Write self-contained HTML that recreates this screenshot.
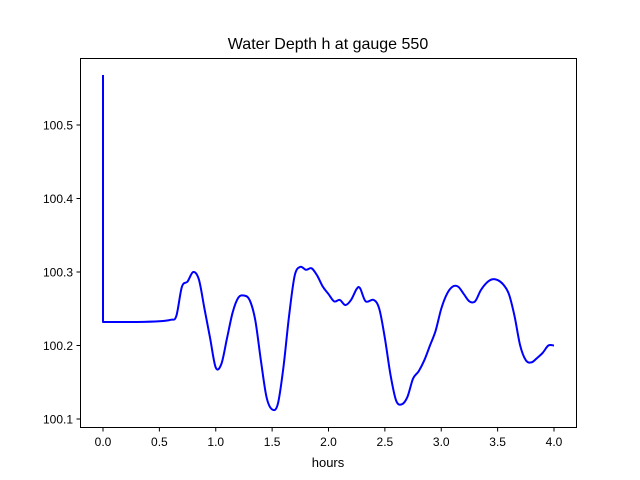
<!DOCTYPE html>
<html><head><meta charset="utf-8"><style>
body{margin:0;background:#fff;}
svg{display:block;font-family:"Liberation Sans","DejaVu Sans",sans-serif;}
</style></head><body>
<svg id="chart" width="640" height="480">
<rect x="0" y="0" width="640" height="480" fill="#fff"/>
<text x="328" y="49" font-size="16" text-anchor="middle">Water Depth h at gauge 550</text>
<text x="328" y="467" font-size="13" text-anchor="middle">hours</text>
<g id="ticks"></g>
<path id="line" fill="none" stroke="#0000ff" stroke-width="2" stroke-linejoin="round"/>
<rect x="80.5" y="58.5" width="496" height="369" fill="none" stroke="#000" stroke-width="1"/>
</svg>
<script>
const xs=[0,0,0.1,0.3,0.5,0.6,0.65,0.7,0.75,0.8,0.85,0.9,0.95,1.0,1.05,1.1,1.15,1.2,1.25,1.3,1.35,1.4,1.45,1.5,1.55,1.6,1.65,1.7,1.75,1.8,1.85,1.9,1.95,2.0,2.05,2.1,2.15,2.2,2.25,2.28,2.33,2.4,2.45,2.5,2.55,2.6,2.65,2.7,2.75,2.8,2.85,2.9,2.95,3.0,3.05,3.1,3.15,3.2,3.25,3.3,3.35,3.4,3.45,3.5,3.55,3.6,3.65,3.7,3.75,3.8,3.85,3.9,3.95,4.0];
const ys=[100.568,100.232,100.232,100.232,100.233,100.235,100.24,100.28,100.287,100.3,100.29,100.25,100.21,100.17,100.175,100.21,100.245,100.265,100.268,100.262,100.235,100.18,100.13,100.113,100.12,100.17,100.24,100.295,100.307,100.303,100.305,100.295,100.28,100.27,100.26,100.262,100.255,100.262,100.277,100.278,100.26,100.262,100.25,100.21,100.16,100.125,100.12,100.13,100.155,100.165,100.18,100.2,100.22,100.25,100.27,100.28,100.28,100.27,100.26,100.26,100.275,100.285,100.29,100.289,100.283,100.27,100.24,100.2,100.18,100.177,100.183,100.19,100.2,100.2];
const xTicks=[0,0.5,1,1.5,2,2.5,3,3.5,4];
const yTicks=[100.1,100.2,100.3,100.4,100.5];
const X=v=>103+v*112.75;
const Y=v=>125-(v-100.5)*735;
const ns="http://www.w3.org/2000/svg";
const g=document.getElementById('ticks');
function mk(t,a){const e=document.createElementNS(ns,t);for(const k in a)e.setAttribute(k,a[k]);g.appendChild(e);return e;}
xTicks.forEach(v=>{
 const l=mk('line',{x1:X(v),x2:X(v),y1:427.5,y2:431.5,stroke:'#000'});
 
 
 const t=mk('text',{x:X(v),y:446,'font-size':12,'text-anchor':'middle'});
 t.textContent=v.toFixed(1);
 
 
});
yTicks.forEach(v=>{
 const l=mk('line',{x1:76.5,x2:80.5,y1:Y(v),y2:Y(v),stroke:'#000'});
 
 
 const t=mk('text',{x:73,y:Y(v)+4.5,'font-size':12,'text-anchor':'end'});
 t.textContent=v.toFixed(1);
 
 
});
const P=xs.map((x,i)=>[X(x),Y(ys[i])]);
let d='M'+P[0][0].toFixed(2)+' '+P[0][1].toFixed(2)+' L'+P[1][0].toFixed(2)+' '+P[1][1].toFixed(2)+' ';
for(let i=1;i<P.length-1;i++){
 const p0=P[Math.max(1,i-1)],p1=P[i],p2=P[i+1],p3=P[Math.min(P.length-1,i+2)];
 const c1=[p1[0]+(p2[0]-p0[0])/6,p1[1]+(p2[1]-p0[1])/6];
 const c2=[p2[0]-(p3[0]-p1[0])/6,p2[1]-(p3[1]-p1[1])/6];
 d+='C'+c1[0].toFixed(2)+' '+c1[1].toFixed(2)+' '+c2[0].toFixed(2)+' '+c2[1].toFixed(2)+' '+p2[0].toFixed(2)+' '+p2[1].toFixed(2)+' ';
}
document.getElementById('line').setAttribute('d',d);
</script>
</body></html>
